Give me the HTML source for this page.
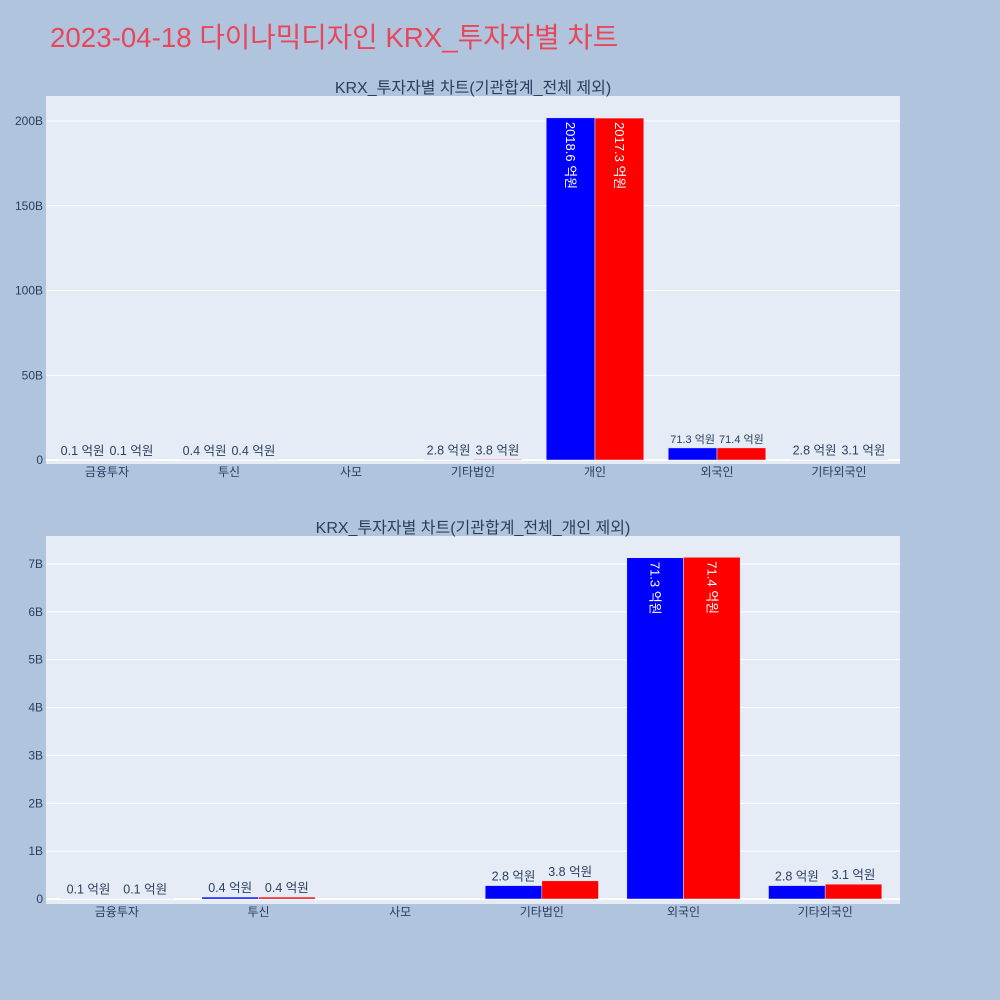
<!DOCTYPE html>
<html><head><meta charset="utf-8">
<style>
body{margin:0;background:#b0c4de;}
svg{display:block;font-family:"Liberation Sans","Noto Sans CJK KR",sans-serif;}
</style></head>
<body>
<svg id="root" width="1000" height="1000" xmlns="http://www.w3.org/2000/svg">
<rect width="1000" height="1000" fill="#b0c4de"/>
<text x="50" y="47" font-size="27.7" fill="#e8475b">2023-04-18 다이나믹디자인 KRX_투자자별 차트</text>
</svg>
<script>
const cats1 = ["금융투자","투신","사모","기타법인","개인","외국인","기타외국인"];
const buy1 = [0.1,0.4,0,2.8,2018.6,71.3,2.8];
const sell1 = [0.1,0.4,0,3.8,2017.3,71.4,3.1];
const cats2 = ["금융투자","투신","사모","기타법인","외국인","기타외국인"];
const buy2 = [0.1,0.4,0,2.8,71.3,2.8];
const sell2 = [0.1,0.4,0,3.8,71.4,3.1];
const ticks1 = [0,50,100,150,200];
const tickLabels1 = ["0","50B","100B","150B","200B"];
const ticks2 = [0,1,2,3,4,5,6,7];
const tickLabels2 = ["0","1B","2B","3B","4B","5B","6B","7B"];

const NS="http://www.w3.org/2000/svg";
const root=document.getElementById('root');
function el(tag,attrs,parent){const e=document.createElementNS(NS,tag);for(const k in attrs)e.setAttribute(k,attrs[k]);(parent||root).appendChild(e);return e;}

function chart(cfg){
  const g=el('g',{});
  
  
  const L=46,R=900,T=cfg.top,B=cfg.bottom;
  const bg=el('rect',{x:L,y:T,width:R-L,height:B-T,fill:'#e5ecf6'},g);
  
  
  const y=v=>cfg.y0-(v/cfg.ymax)*(cfg.y0-cfg.ytop);
  const PR=cfg.pr||R;
  const n=cfg.cats.length, bw=(PR-L)/n;
  const xc=i=>L+bw*(i+0.5);
  cfg.ticks.forEach((t,i)=>{
    const ln=el('line',{x1:L,x2:R,y1:y(t),y2:y(t),stroke:'#fff','stroke-width':t===0?2:1},g);
    
    
    const tx=el('text',{x:L-3,y:y(t)+4,'text-anchor':'end','font-size':12,fill:'#2a3f5f'},g);
    tx.textContent=cfg.tickLabels[i];
    
    
  });
  const barW=bw*0.4;
  function bar(v,i,side,color){
    const vb=v/10;
    const x0=xc(i)+(side?0:-barW);
    const yt=y(vb), h=Math.max(cfg.y0-yt,0);
    const r=el('rect',{x:x0,y:yt,width:barW,height:h,fill:color,stroke:'#e5ecf6','stroke-width':0.5},g);
    
    
    const label=v.toFixed(1)+' 억원';
    if(v===0) return;
    if(h>60){
      const tx=el('text',{x:0,y:0,'font-size':13,fill:'#fff','transform':`translate(${x0+barW/2-4.5},${yt+4}) rotate(90)`},g);
      tx.textContent=label;
      
      
    } else {
      const fs=(cfg.small&&h>5)?11:12.5;
      const tx=el('text',{x:x0+barW/2,y:yt-5,'text-anchor':'middle','font-size':fs,fill:'#2a3f5f'},g);
      tx.textContent=label;
      
      
    }
  }
  cfg.cats.forEach((c,i)=>{
    bar(cfg.buy[i],i,0,'#0000ff');
    bar(cfg.sell[i],i,1,'#ff0000');
    const tx=el('text',{x:xc(i),y:B+12,'text-anchor':'middle','font-size':12,fill:'#2a3f5f'},g);
    tx.textContent=c;
    
    
  });
  const tt=el('text',{x:473,y:T-3,'text-anchor':'middle','font-size':16,fill:'#2a3f5f'},g);
  tt.textContent=cfg.title;
  
  
}
chart({name:'chart-top',top:96,bottom:464,y0:460,ytop:121,ymax:200,cats:cats1,buy:buy1,sell:sell1,ticks:ticks1,tickLabels:tickLabels1,title:'KRX_투자자별 차트(기관합계_전체 제외)',small:true});
chart({name:'chart-bottom',top:536,bottom:904,y0:899,ytop:564,ymax:7,pr:896,cats:cats2,buy:buy2,sell:sell2,ticks:ticks2,tickLabels:tickLabels2,title:'KRX_투자자별 차트(기관합계_전체_개인 제외)',small:false});
</script>
</body></html>
